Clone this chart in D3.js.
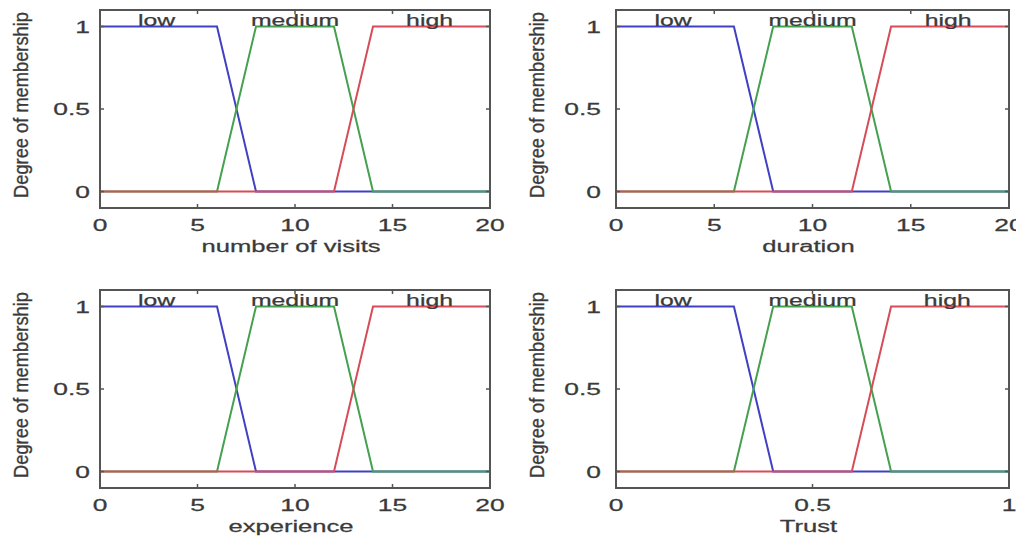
<!DOCTYPE html>
<html>
<head>
<meta charset="utf-8">
<script src="https://cdn.jsdelivr.net/npm/d3@7/dist/d3.min.js"></script>
<style>
  html, body { margin: 0; padding: 0; background: #fff; }
  svg { display: block; }
  text { font-family: "Liberation Sans", Arial, sans-serif; fill: #3a3a3a; stroke: #3a3a3a; stroke-width: 0.25; }
</style>
</head>
<body>
<svg id="chart" width="1016" height="539"></svg>
<script>
// ---- data ----
const xAxisLabels = ["number of visits", "duration", "experience", "Trust"];
const xMaxValues = [20, 20, 20, 1];
const xTickValues = [[0, 5, 10, 15, 20], [0, 5, 10, 15, 20], [0, 5, 10, 15, 20], [0, 0.5, 1]];
const yTickValues = [0, 0.5, 1];
const mfNames = ["low", "medium", "high"];
const lowParams = [[0, 0, 6, 8], [0, 0, 6, 8], [0, 0, 6, 8], [0, 0, 0.3, 0.4]];
const mediumParams = [[6, 8, 12, 14], [6, 8, 12, 14], [6, 8, 12, 14], [0.3, 0.4, 0.6, 0.7]];
const highParams = [[12, 14, 20, 20], [12, 14, 20, 20], [12, 14, 20, 20], [0.6, 0.7, 1, 1]];
const mfLabelX = [[2.9, 10, 16.9], [2.9, 10, 16.9], [2.9, 10, 16.9], [0.145, 0.5, 0.843]];

// ---- layout / style ----
const boxes = [
  {x0: 100, x1: 490, y0: 10, y1: 208, tickOff: 10, ylabX: 22},
  {x0: 616, x1: 1009, y0: 10, y1: 208, tickOff: 15, ylabX: 538},
  {x0: 100, x1: 490, y0: 290, y1: 488, tickOff: 10, ylabX: 22},
  {x0: 616, x1: 1009, y0: 290, y1: 488, tickOff: 15, ylabX: 538}
];
const mfColors = ["#4040c4", "#45a050", "#d64c58"];
const SX = 1.6;

function trap(x, p) {
  const [a, b, c, d] = p;
  let left = (x < b) ? (b === a ? (x >= a ? 1 : 0) : (x - a) / (b - a)) : 1;
  let right = (x > c) ? (d === c ? (x <= d ? 1 : 0) : (d - x) / (d - c)) : 1;
  return Math.max(0, Math.min(1, left, right));
}

const svg = d3.select("#chart");

function stretchedText(g, x, y, str, anchor, sx, size) {
  return g.append("text")
    .attr("transform", `translate(${x},${y}) scale(${sx},1)`)
    .attr("text-anchor", anchor)
    .attr("font-size", size)
    .text(str);
}

boxes.forEach((b, i) => {
  const g = svg.append("g");
  const x = d3.scaleLinear().domain([0, xMaxValues[i]]).range([b.x0, b.x1]);
  const y = d3.scaleLinear().domain([-0.1, 1.1]).range([b.y1, b.y0]);

  // MF lines: blue, green, red order
  const params = [lowParams[i], mediumParams[i], highParams[i]];
  const line = d3.line().x(d => x(d[0])).y(d => y(d[1]));
  params.forEach((p, k) => {
    const xs = Array.from(new Set([0, ...p, xMaxValues[i]].map(v => Math.max(0, Math.min(xMaxValues[i], v))))).sort((a, c) => a - c);
    const pts = xs.map(v => [v, trap(v, p)]);
    g.append("path").attr("d", line(pts))
      .attr("fill", "none").attr("stroke", mfColors[k]).attr("stroke-width", 2);
  });

  // box
  g.append("rect").attr("x", b.x0).attr("y", b.y0)
    .attr("width", b.x1 - b.x0).attr("height", b.y1 - b.y0)
    .attr("fill", "none").attr("stroke", "#555").attr("stroke-width", 2);

  // ticks inside (bottom/top, left/right)
  xTickValues[i].forEach(t => {
    g.append("line").attr("x1", x(t)).attr("x2", x(t)).attr("y1", b.y1).attr("y2", b.y1 - 4).attr("stroke", "#555").attr("stroke-width", 1.5);
    g.append("line").attr("x1", x(t)).attr("x2", x(t)).attr("y1", b.y0).attr("y2", b.y0 + 4).attr("stroke", "#555").attr("stroke-width", 1.5);
    stretchedText(g, x(t), b.y1 + 23, String(t), "middle", 1.65, 16);
  });
  yTickValues.forEach(t => {
    g.append("line").attr("x1", b.x0).attr("x2", b.x0 + 4).attr("y1", y(t)).attr("y2", y(t)).attr("stroke", "#555").attr("stroke-width", 1.5);
    g.append("line").attr("x1", b.x1).attr("x2", b.x1 - 4).attr("y1", y(t)).attr("y2", y(t)).attr("stroke", "#555").attr("stroke-width", 1.5);
    stretchedText(g, b.x0 - b.tickOff, y(t) + 6, String(t), "end", 1.65, 16);
  });

  // MF labels
  mfNames.forEach((n, k) => {
    stretchedText(g, x(mfLabelX[i][k]), y(1) - 1, n, "middle", 1.55, 16);
  });

  // x label
  stretchedText(g, (b.x0 + b.x1) / 2 - 4, b.y1 + 44, xAxisLabels[i], "middle", SX, 16);

  // y label
  g.append("text")
    .attr("transform", `translate(${b.ylabX + 6},${(b.y0 + b.y1) / 2 - 4}) rotate(-90) scale(1.22,1.35)`)
    .attr("text-anchor", "middle")
    .attr("font-size", 15)
    .text("Degree of membership");
});
</script>
</body>
</html>
